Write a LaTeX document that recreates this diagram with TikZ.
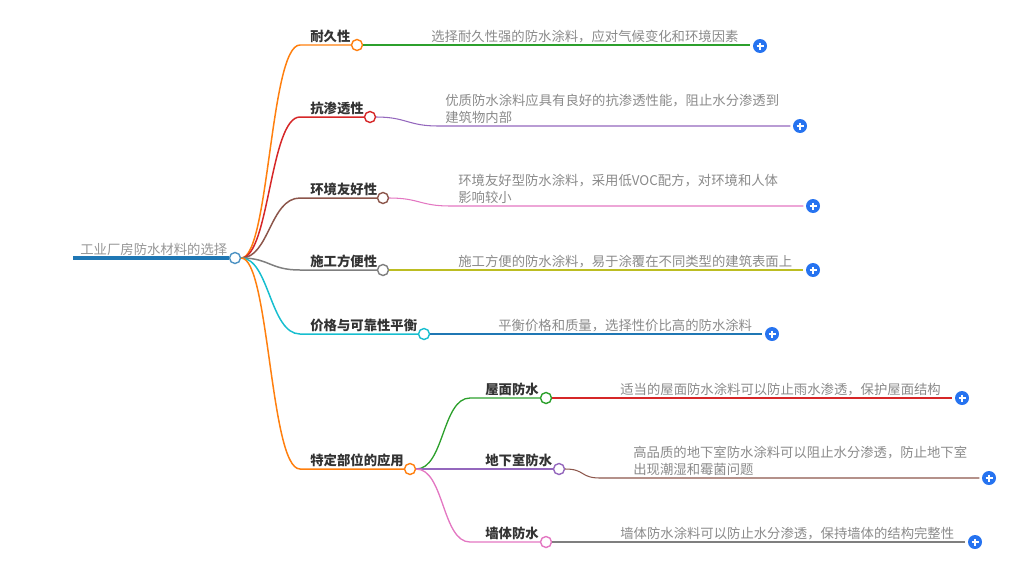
\documentclass[tikz,border=0pt]{standalone}
\usepackage{fontspec}
\setmainfont{Noto Sans CJK SC}
\usetikzlibrary{positioning}
\definecolor{cOrange}{HTML}{FF7F0E}
\definecolor{cRed}{HTML}{D62728}
\definecolor{cBrown}{HTML}{8C564B}
\definecolor{cGray}{HTML}{7F7F7F}
\definecolor{cCyan}{HTML}{17BECF}
\definecolor{cGreen}{HTML}{2CA02C}
\definecolor{cPurple}{HTML}{9467BD}
\definecolor{cPink}{HTML}{E377C2}
\definecolor{cOlive}{HTML}{BCBD22}
\definecolor{cBlue}{HTML}{1F77B4}
\definecolor{plusblue}{HTML}{2673F0}
\definecolor{txtgray}{HTML}{8A8A8A}
\definecolor{lbldark}{HTML}{333333}
\tikzset{
  knob/.style={circle, draw=#1, fill=white, line width=0.8pt, minimum size=0.22cm, inner sep=0pt},
  edge/.style={draw=#1, line width=0.85pt},
  leaf/.style={draw=#1, line width=0.6pt},
  plusbtn/.style={circle, fill=plusblue, minimum size=0.28cm, inner sep=0pt, outer sep=1.5pt,
    path picture={
      \draw[white, line width=1pt] (path picture bounding box.center) ++(-3.5,0) -- ++(7,0);
      \draw[white, line width=1pt] (path picture bounding box.center) ++(0,-3.5) -- ++(0,7);
    }},
  lbl/.style={anchor=south west, inner sep=0pt, text=lbldark, font=\fontsize{7.6}{9.6}\selectfont\bfseries},
  note/.style={anchor=south west, inner sep=0pt, text=txtgray, align=left, font=\fontsize{7.6}{9.6}\selectfont},
}
\begin{document}
\begin{tikzpicture}[x=0.02cm, y=-0.02cm]
  \useasboundingbox (0,0) rectangle (1010,565);

  % Root
  \coordinate (rootl) at (73,258);
  \node[knob=cBlue!80] (root) at (235,258) {};
  \draw[draw=cBlue, line width=2.3pt] (rootl) -- (root);
  \node[note, text=txtgray!90] (rootlbl) at (80,256) {工业厂房防水材料的选择};

  % Level-1 nodes
  \coordinate (c1) at (300,45);
  \coordinate (c2) at (300,117);
  \coordinate (c3) at (300,198);
  \coordinate (c4) at (300,270);
  \coordinate (c5) at (300,334);
  \coordinate (c6) at (300,469);
  \node[knob=cOrange] (k1) at (357,45) {};
  \node[knob=cRed] (k2) at (370,117) {};
  \node[knob=cBrown] (k3) at (383,198) {};
  \node[knob=cGray] (k4) at (383,270) {};
  \node[knob=cCyan] (k5) at (424,334) {};
  \node[knob=cOrange] (k6) at (410,469) {};
  \node[lbl] (l1) at (310,43) {耐久性};
  \node[lbl] (l2) at (310,115) {抗渗透性};
  \node[lbl] (l3) at (310,196) {环境友好性};
  \node[lbl] (l4) at (310,268) {施工方便性};
  \node[lbl] (l5) at (310,332) {价格与可靠性平衡};
  \node[lbl] (l6) at (310,467) {特定部位的应用};

  % Root to level-1
  \draw[edge=cOrange] (root.east) .. controls +(28,0) and +(-30,0) .. (c1) -- (k1);
  \draw[edge=cRed] (root.east) .. controls +(28,0) and +(-30,0) .. (c2) -- (k2);
  \draw[edge=cBrown] (root.east) .. controls +(28,0) and +(-30,0) .. (c3) -- (k3);
  \draw[edge=cGray] (root.east) .. controls +(28,0) and +(-30,0) .. (c4) -- (k4);
  \draw[edge=cCyan] (root.east) .. controls +(28,0) and +(-30,0) .. (c5) -- (k5);
  \draw[edge=cOrange] (root.east) .. controls +(28,0) and +(-30,0) .. (c6) -- (k6);

  % Level-2 under 特定部位的应用
  \coordinate (e1) at (470,398);
  \coordinate (e3) at (470,542);
  \node[knob=cGreen] (s1) at (546,398) {};
  \node[knob=cPurple] (s2) at (559,469) {};
  \node[knob=cPink] (s3) at (546,542) {};
  \node[lbl] (m1) at (485,396) {屋面防水};
  \node[lbl] (m2) at (485,467) {地下室防水};
  \node[lbl] (m3) at (485,540) {墙体防水};
  \draw[leaf=cGreen, line width=0.75pt] (k6.east) .. controls +(28,0) and +(-28,0) .. (e1) -- (s1);
  \draw[leaf=cPurple, line width=0.75pt] (k6) -- (s2);
  \draw[leaf=cPink, line width=0.75pt] (k6.east) .. controls +(28,0) and +(-28,0) .. (e3) -- (s3);

  % Plus buttons
  \node[plusbtn] (p1) at (760,46) {};
  \node[plusbtn] (p2) at (800,126) {};
  \node[plusbtn] (p3) at (813,206) {};
  \node[plusbtn] (p4) at (813,270) {};
  \node[plusbtn] (p5) at (772,334) {};
  \node[plusbtn] (p7) at (962,398) {};
  \node[plusbtn] (p8) at (989,478) {};
  \node[plusbtn] (p9) at (975,542) {};

  % Leaves
  \coordinate (d2) at (438,126);
  \coordinate (d3) at (450,206);
  \coordinate (d8) at (600,478);
  \draw[leaf=cGreen] (k1) -- (k1 -| p1.west);
  \draw[leaf=cPurple] (k2.east) .. controls +(30,0) and +(-30,0) .. (d2) -- (d2 -| p2.west);
  \draw[leaf=cPink] (k3.east) .. controls +(30,0) and +(-30,0) .. (d3) -- (d3 -| p3.west);
  \draw[leaf=cOlive] (k4) -- (k4 -| p4.west);
  \draw[leaf=cBlue] (k5) -- (k5 -| p5.west);
  \draw[leaf=cRed] (s1) -- (s1 -| p7.west);
  \draw[leaf=cBrown] (s2.east) .. controls +(20,0) and +(-20,0) .. (d8) -- (d8 -| p8.west);
  \draw[leaf=cGray] (s3) -- (s3 -| p9.west);
  \node[note] (n1) at (431,43) {选择耐久性强的防水涂料，应对气候变化和环境因素};
  \node[note] (n2) at (445,124) {优质防水涂料应具有良好的抗渗透性能，阻止水分渗透到\\建筑物内部};
  \node[note] (n3) at (458,204) {环境友好型防水涂料，采用低VOC配方，对环境和人体\\影响较小};
  \node[note] (n4) at (458,268) {施工方便的防水涂料，易于涂覆在不同类型的建筑表面上};
  \node[note] (n5) at (498,332) {平衡价格和质量，选择性价比高的防水涂料};
  \node[note] (n7) at (620,396) {适当的屋面防水涂料可以防止雨水渗透，保护屋面结构};
  \node[note] (n8) at (633,476) {高品质的地下室防水涂料可以阻止水分渗透，防止地下室\\出现潮湿和霉菌问题};
  \node[note] (n9) at (620,540) {墙体防水涂料可以防止水分渗透，保持墙体的结构完整性};
\end{tikzpicture}
\end{document}
